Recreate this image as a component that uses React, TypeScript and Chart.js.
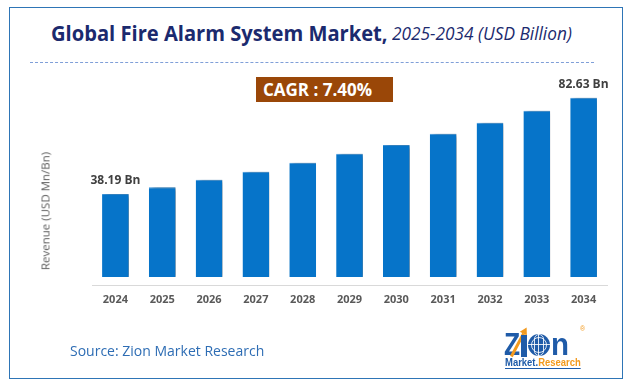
import React, { useEffect, useRef } from "react";
import { Chart, registerables } from "chart.js";

Chart.register(...registerables);

const years = ["2024", "2025", "2026", "2027", "2028", "2029", "2030", "2031", "2032", "2033", "2034"];
const revenue = [38.19, 41.4, 44.8, 48.5, 52.6, 56.8, 60.8, 66.0, 71.1, 76.6, 82.63];
const valueLabels = ["38.19 Bn", "", "", "", "", "", "", "", "", "", "82.63 Bn"];
const titleMain = "Global Fire Alarm System Market,";
const titleSub = "2025-2034 (USD Billion)";
const cagrText = "CAGR : 7.40%";
const yTitle = "Revenue (USD Mn/Bn)";
const sourceText = "Source: Zion Market Research";

const FONT = "'Open Sans', 'Noto Sans', sans-serif";

const shadowPlugin = {
  id: "barShadow",
  beforeDatasetsDraw(chart: any) {
    const ctx = chart.ctx;
    ctx.save();
    ctx.shadowColor = "rgba(0,0,0,0.55)";
    ctx.shadowOffsetX = 4;
    ctx.shadowOffsetY = 1;
    ctx.shadowBlur = 4;
  },
  afterDatasetsDraw(chart: any) {
    chart.ctx.restore();
  },
};

const labelPlugin = {
  id: "valueLabels",
  afterDraw(chart: any) {
    const ctx = chart.ctx;
    const meta = chart.getDatasetMeta(0);
    const xScale = chart.scales.x;
    const bottom = chart.chartArea.bottom;
    ctx.save();
    ctx.textAlign = "center";
    ctx.textBaseline = "middle";
    ctx.font = `bold 12px ${FONT}`;
    ctx.fillStyle = "#404040";
    meta.data.forEach((bar: any, i: number) => {
      const t = valueLabels[i];
      if (!t) return;
      ctx.fillText(t, bar.x, bar.y - 13.5);
    });
    ctx.font = `bold 11px ${FONT}`;
    ctx.fillStyle = "#595959";
    years.forEach((y, i) => {
      ctx.fillText(y, xScale.getPixelForValue(i), bottom + 15);
    });
    ctx.restore();
  },
};

function Logo() {
  const big: React.CSSProperties = {
    position: "absolute",
    fontFamily: "'Liberation Sans', Arial, sans-serif",
    fontWeight: 700,
    fontSize: 31,
    lineHeight: "31px",
    color: "#1f5ba8",
    transformOrigin: "left top",
  };
  return (
    <div style={{ position: "absolute", left: 0, top: 0 }}>
      <span style={{ ...big, left: 504, top: 329, transform: "scaleX(0.85)" }}>Z</span>
      <div style={{ position: "absolute", left: 516, top: 332, width: 3, height: 26, background: "#f39a1e", transform: "rotate(28deg)", transformOrigin: "center" }} />
      <div style={{ position: "absolute", left: 521, top: 327, width: 0, height: 0, borderLeft: "4px solid transparent", borderRight: "4px solid transparent", borderBottom: "7px solid #f39a1e", transform: "rotate(28deg)" }} />
      <div style={{ position: "absolute", left: 521, top: 335, width: 6, height: 22, background: "#1f5ba8" }} />
      <div style={{ position: "absolute", left: 528, top: 334, width: 22, height: 22, borderRadius: 11, background: "#1f5ba8", overflow: "hidden" }}>
        <div style={{ position: "absolute", left: 3, top: 3, width: 14, height: 14, borderRadius: 8, border: "1px solid rgba(255,255,255,0.85)" }} />
        <div style={{ position: "absolute", left: 6, top: 0, width: 8, height: 20, borderRadius: 10, border: "1px solid rgba(255,255,255,0.85)" }} />
        <div style={{ position: "absolute", left: 0, top: 10, width: 22, height: 1, background: "rgba(255,255,255,0.85)" }} />
        <div style={{ position: "absolute", left: 10, top: 0, width: 1, height: 22, background: "rgba(255,255,255,0.85)" }} />
      </div>
      <span style={{ ...big, left: 551, top: 329, transform: "scaleX(0.95)" }}>n</span>
      <span style={{ position: "absolute", left: 580, top: 325, fontSize: 7, color: "#f39a1e", fontFamily: "'Liberation Sans', Arial, sans-serif" }}>®</span>
      <div
        style={{
          position: "absolute",
          left: 505,
          top: 357,
          fontFamily: "'Liberation Sans', Arial, sans-serif",
          fontSize: 11,
          fontWeight: 700,
          lineHeight: "11px",
          whiteSpace: "nowrap",
          borderBottom: "1px solid #1f5ba8",
          transform: "scaleX(0.86)",
          transformOrigin: "left top",
        }}
      >
        <span style={{ color: "#1f5ba8" }}>Market.</span>
        <span style={{ color: "#f39a1e" }}>Research</span>
      </div>
    </div>
  );
}

export default function App() {
  const ref = useRef<HTMLCanvasElement | null>(null);

  useEffect(() => {
    if (!ref.current) return;
    const chart = new Chart(ref.current, {
      type: "bar",
      data: {
        labels: years,
        datasets: [
          {
            data: revenue,
            backgroundColor: "#0674c9",
            borderColor: "#3a93da",
            borderWidth: { top: 1, left: 0, right: 0, bottom: 0 } as any,
            barPercentage: 0.57,
            categoryPercentage: 1,
          },
        ],
      },
      options: {
        animation: false,
        responsive: false,
        devicePixelRatio: 1,
        layout: { padding: { left: 92, right: 28, top: 60, bottom: 104 } },
        plugins: {
          legend: { display: false },
          tooltip: { enabled: false },
          title: { display: false },
        },
        scales: {
          x: {
            grid: { display: false, drawTicks: false },
            border: { display: true, color: "#d9d9d9", width: 1 },
            ticks: { display: false },
          },
          y: {
            display: false,
            min: -3.7,
            max: 100,
          },
        },
      },
      plugins: [shadowPlugin, labelPlugin],
    });
    return () => chart.destroy();
  }, []);

  return (
    <div style={{ position: "fixed", left: 0, top: 0, width: 635, height: 389, background: "#ffffff", overflow: "hidden" }}>
      <div style={{ position: "absolute", left: 9, top: 7, width: 612, height: 370, border: "1.5px solid #2e75b6" }} />
      <div
        style={{
          position: "absolute",
          left: 51,
          top: 17,
          whiteSpace: "nowrap",
          color: "#1b2a6e",
          fontFamily: FONT,
          fontWeight: 700,
          fontSize: 22,
          lineHeight: "30px",
          transform: "scaleX(0.915)",
          transformOrigin: "left top",
        }}
      >
        {titleMain}
      </div>
      <div
        style={{
          position: "absolute",
          left: 392,
          top: 19,
          whiteSpace: "nowrap",
          color: "#1b2a6e",
          fontFamily: FONT,
          fontStyle: "italic",
          fontSize: 18,
          lineHeight: "28px",
          transform: "scaleX(0.96)",
          transformOrigin: "left top",
        }}
      >
        {titleSub}
      </div>
      <div style={{ position: "absolute", left: 30, top: 62, width: 564, height: 0, borderTop: "1px dashed #7f9fd8" }} />
      <div
        style={{
          position: "absolute",
          left: 256,
          top: 77,
          width: 137,
          height: 25,
          background: "#9a4708",
        }}
      />
      <div
        style={{
          position: "absolute",
          left: 263,
          top: 77,
          color: "#ffffff",
          fontFamily: FONT,
          fontWeight: 700,
          fontSize: 17,
          lineHeight: "25px",
          whiteSpace: "nowrap",
        }}
      >
        {cagrText}
      </div>
      <canvas ref={ref} width={635} height={389} style={{ position: "absolute", left: 0, top: 0 }} />
      <div
        style={{
          position: "absolute",
          left: 45,
          top: 211,
          transform: "translate(-50%, -50%) rotate(-90deg)",
          color: "#595959",
          fontFamily: FONT,
          fontSize: 11.5,
          whiteSpace: "nowrap",
        }}
      >
        {yTitle}
      </div>
      <div style={{ position: "absolute", left: 70, top: 341, color: "#2e6db4", fontFamily: FONT, fontSize: 14, whiteSpace: "nowrap" }}>
        {sourceText}
      </div>
      <Logo />
    </div>
  );
}
